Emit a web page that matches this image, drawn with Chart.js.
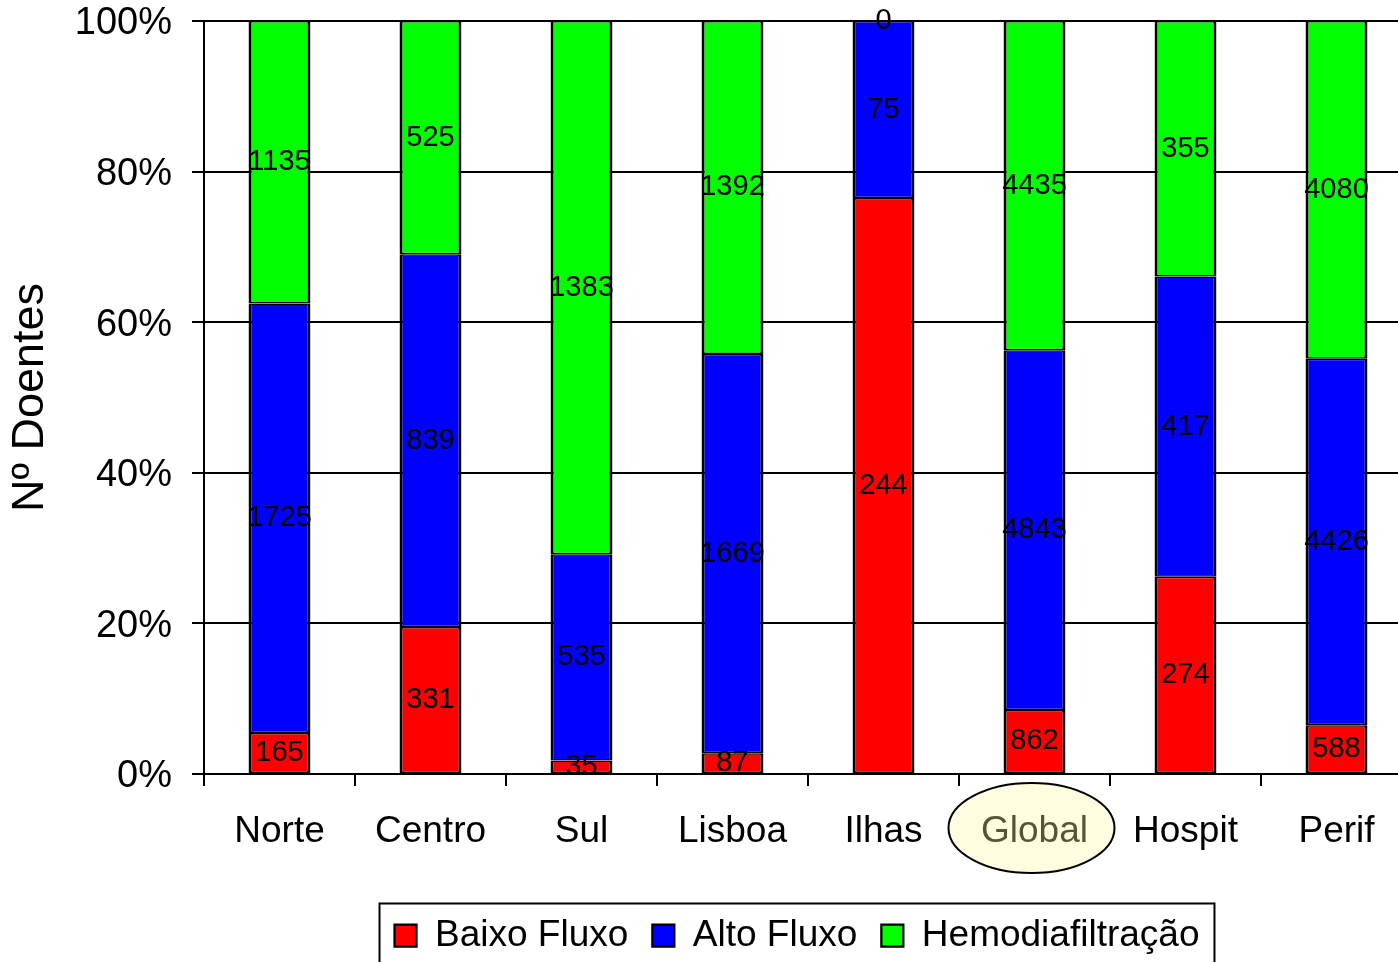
<!DOCTYPE html>
<html>
<head>
<meta charset="utf-8">
<script src="https://cdn.jsdelivr.net/npm/chart.js@4.4.1/dist/chart.umd.min.js"></script>
<style>
  html, body { margin: 0; padding: 0; background: #fff; overflow: hidden; }
  #wrap { width: 1412px; height: 964px; }
</style>
</head>
<body>
<div id="wrap"><canvas id="myChart"></canvas></div>
<script>
var categories = ["Norte", "Centro", "Sul", "Lisboa", "Ilhas", "Global", "Hospit", "Perif"];
var baixoFluxo = [165, 331, 35, 87, 244, 862, 274, 588];
var altoFluxo = [1725, 839, 535, 1669, 75, 4843, 417, 4426];
var hemodiafiltracao = [1135, 525, 1383, 1392, 0, 4435, 355, 4080];
var yTicks = [0, 20, 40, 60, 80, 100];

var FONT = "'Liberation Sans', Arial, sans-serif";

// share of each series in its category, in percent
var totals = categories.map(function (c, i) {
    return baixoFluxo[i] + altoFluxo[i] + hemodiafiltracao[i];
});
function pct(arr) {
    return arr.map(function (v, i) { return v / totals[i] * 100; });
}

var counts = [baixoFluxo, altoFluxo, hemodiafiltracao];

// stacked segments share edges, so keep top/bottom half as thick
var edge = { top: 1.5, bottom: 1.5, left: 3, right: 3 };

var valueLabels = {
    id: 'valueLabels',
    afterDatasetsDraw: function (chart) {
        var c = chart.ctx;
        c.save();
        c.font = "29px " + FONT;
        c.fillStyle = "#000";
        c.textAlign = "center";
        c.textBaseline = "middle";
        chart.data.datasets.forEach(function (ds, di) {
            chart.getDatasetMeta(di).data.forEach(function (bar, i) {
                c.fillText(String(counts[di][i]), bar.x, (bar.y + bar.base) / 2);
            });
        });
        c.restore();
    }
};

var globalMark = {
    id: 'globalMark',
    beforeDraw: function (chart) {
        var c = chart.ctx;
        var x = chart.scales.x.getPixelForValue(5) - 3;
        c.save();
        c.beginPath();
        c.ellipse(x, 828, 83, 45, 0, 0, Math.PI * 2);
        c.fillStyle = "#FFFDE0";
        c.fill();
        c.lineWidth = 2;
        c.strokeStyle = "#000";
        c.stroke();
        c.restore();
    }
};

// move legend a little left, like the original
var legendShift = {
    id: 'legendShift',
    afterLayout: function (chart) {
        chart.legend.left -= 11;
        chart.legend.right -= 11;
    }
};

var legendFrame = {
    id: 'legendFrame',
    afterDraw: function (chart) {
        var boxes = chart.legend.legendHitBoxes;
        if (!boxes || !boxes.length) return;
        var first = boxes[0], last = boxes[boxes.length - 1];
        var c = chart.ctx;
        c.save();
        c.lineWidth = 2;
        c.strokeStyle = "#000";
        c.strokeRect(first.left - 15, first.top + first.height / 2 - 32,
            last.left + last.width - first.left + 30, 120);
        c.restore();
    }
};

var ctx = document.getElementById("myChart");
var myChart = new Chart(ctx, {
    type: 'bar',
    data: {
        labels: categories,
        datasets: [
            {
                label: "Baixo Fluxo",
                backgroundColor: "#FF0000",
                borderColor: "#000",
                borderWidth: edge,
                borderSkipped: false,
                data: pct(baixoFluxo)
            },
            {
                label: "Alto Fluxo",
                backgroundColor: "#0000FF",
                borderColor: "#000",
                borderWidth: edge,
                borderSkipped: false,
                data: pct(altoFluxo)
            },
            {
                label: "Hemodiafiltração",
                backgroundColor: "#00FF00",
                borderColor: "#000",
                borderWidth: edge,
                borderSkipped: false,
                data: pct(hemodiafiltracao)
            }
        ]
    },
    options: {
        responsive: true,
        maintainAspectRatio: false,
        animation: false,
        datasets: { bar: { barPercentage: 0.41, categoryPercentage: 1 } },
        layout: { padding: { top: 21, left: 0, right: 0, bottom: 0 } },
        plugins: {
            tooltip: { enabled: false },
            legend: {
                position: 'bottom',
                fullSize: false,
                labels: {
                    color: "#000",
                    font: { family: FONT, size: 37 },
                    boxWidth: 22,
                    boxHeight: 22,
                    padding: 24
                }
            }
        },
        scales: {
            x: {
                stacked: true,
                afterFit: function (scale) { scale.height = 119; },
                grid: {
                    offset: true,
                    drawOnChartArea: false,
                    color: "#000",
                    lineWidth: 2,
                    tickLength: 12
                },
                border: { color: "#000", width: 2 },
                ticks: {
                    padding: 24,
                    color: function (c) { return c.index === 5 ? "#55553A" : "#000"; },
                    font: { family: FONT, size: 37 }
                }
            },
            y: {
                stacked: true,
                min: 0,
                max: 100,
                afterFit: function (scale) {
                    scale.width = 204;
                    scale.paddingTop = 0;
                },
                afterBuildTicks: function (scale) {
                    scale.ticks = yTicks.map(function (v) { return { value: v }; });
                },
                grid: { color: "#000", lineWidth: 2, tickLength: 12 },
                border: { color: "#000", width: 2 },
                ticks: {
                    padding: 20,
                    labelOffset: 3,
                    color: "#000",
                    font: { family: FONT, size: 38, lineHeight: 1 },
                    callback: function (v) { return v + "%"; }
                },
                title: {
                    display: true,
                    text: "Nº Doentes",
                    color: "#000",
                    font: { family: FONT, size: 45 },
                    padding: { top: 4, bottom: 0 }
                }
            }
        }
    },
    plugins: [legendShift, globalMark, valueLabels, legendFrame]
});
</script>
</body>
</html>
